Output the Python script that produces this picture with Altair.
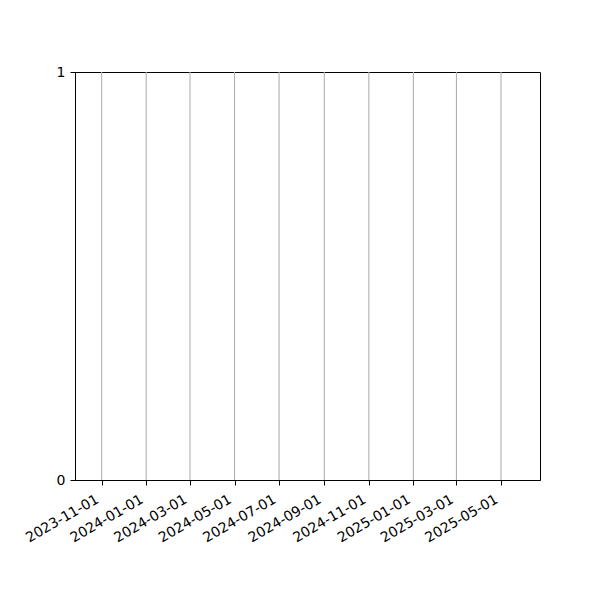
import altair as alt
import pandas as pd

tick_dates = ["2023-11-01", "2024-01-01", "2024-03-01", "2024-05-01", "2024-07-01",
              "2024-09-01", "2024-11-01", "2025-01-01", "2025-03-01", "2025-05-01"]
y_domain = [0, 1]
y_ticks = [0, 1]

grid_df = pd.DataFrame({"date": pd.to_datetime(tick_dates)})

tick_vals = [alt.DateTime(year=int(d[:4]), month=int(d[5:7]), date=int(d[8:10])) for d in tick_dates]

grid = alt.Chart(grid_df).mark_rule(color="#b0b0b0", strokeWidth=1.1).encode(
    x=alt.X("date:T",
            scale=alt.Scale(domain=[alt.DateTime(year=2023, month=9, date=25, hours=12),
                                    alt.DateTime(year=2025, month=6, date=23, hours=10)]),
            axis=alt.Axis(values=tick_vals, format="%Y-%m-%d", labelAngle=-30,
                          labelAlign="right", labelBaseline="top", grid=False,
                          title=None, labelPadding=7, labelOffset=-8, labelFlush=False,
                          labelOverlap=False)),
    y=alt.value(0),
    y2=alt.value(408),
)

yaxis = alt.Chart(pd.DataFrame({"v": y_ticks})).mark_point(opacity=0).encode(
    y=alt.Y("v:Q", scale=alt.Scale(domain=y_domain, nice=False),
            axis=alt.Axis(values=y_ticks, format="d", grid=False, title=None))
)

chart = alt.layer(grid, yaxis).properties(
    width=465, height=408,
    autosize=alt.AutoSizeParams(type="none"),
    padding={"left": 67, "top": 64, "right": 50, "bottom": 100},
).configure_view(stroke="black", strokeWidth=1).configure_axis(
    domainColor="black", tickColor="black", tickSize=5, labelFont="DejaVu Sans",
    labelFontSize=14, labelColor="black", domainWidth=1, tickWidth=1,
).configure_axisY(labelPadding=5)

chart.save("out.html", embed_options={"renderer": "svg", "actions": False})
